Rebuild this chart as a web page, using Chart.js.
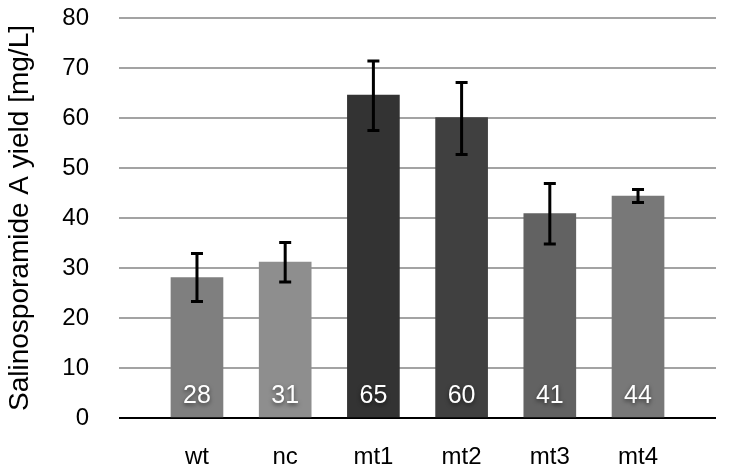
<!DOCTYPE html>
<html>
<head>
<meta charset="utf-8">
<script src="https://cdn.jsdelivr.net/npm/chart.js@4/dist/chart.umd.min.js"></script>
<style>
  html, body { margin: 0; padding: 0; background: #ffffff; }
  #wrap { width: 729px; height: 471px; }
</style>
</head>
<body>
<div id="wrap"><canvas id="yieldChart" width="729" height="471"></canvas></div>
<script>
const categories = ["wt", "nc", "mt1", "mt2", "mt3", "mt4"];
const yieldValues = [28.1, 31.2, 64.6, 60.1, 40.9, 44.4];
const errorLow = [23.3, 27.2, 57.5, 52.7, 34.8, 43.1];
const errorHigh = [32.9, 35.1, 71.4, 67.1, 46.9, 45.7];
const barLabels = ["28", "31", "65", "60", "41", "44"];
const barColors = ["#7f7f7f", "#8e8e8e", "#333333", "#404040", "#626262", "#787878"];
const yTicks = [0, 10, 20, 30, 40, 50, 60, 70, 80];

const fontFamily = "'Liberation Sans', Arial, Helvetica, sans-serif";

const errorBarPlugin = {
  id: "errorBars",
  afterDatasetsDraw(chart) {
    const ctx = chart.ctx;
    const yScale = chart.scales.y;
    const meta = chart.getDatasetMeta(0);
    ctx.save();
    meta.data.forEach((bar, i) => {
      // value label inside the bar
      ctx.save();
      ctx.font = "25px " + fontFamily;
      ctx.fillStyle = "#ffffff";
      ctx.textAlign = "center";
      ctx.textBaseline = "middle";
      ctx.shadowColor = "rgba(0,0,0,0.55)";
      ctx.shadowBlur = 4;
      ctx.shadowOffsetY = 2;
      ctx.fillText(barLabels[i], bar.x, yScale.getPixelForValue(0) - 22);
      ctx.restore();

      // error bar
      const top = yScale.getPixelForValue(errorHigh[i]);
      const bottom = yScale.getPixelForValue(errorLow[i]);
      ctx.strokeStyle = "#000000";
      ctx.lineWidth = 3;
      ctx.beginPath();
      ctx.moveTo(bar.x, top);
      ctx.lineTo(bar.x, bottom);
      ctx.moveTo(bar.x - 6, top);
      ctx.lineTo(bar.x + 6, top);
      ctx.moveTo(bar.x - 6, bottom);
      ctx.lineTo(bar.x + 6, bottom);
      ctx.stroke();
    });
    ctx.restore();
  },
};

const ctx = document.getElementById("yieldChart").getContext("2d");

new Chart(ctx, {
  type: "bar",
  data: {
    datasets: [
      {
        data: categories.map((c, i) => ({ x: i, y: yieldValues[i] })),
        backgroundColor: barColors,
        borderWidth: 0,
        barThickness: 52,
      },
    ],
  },
  options: {
    responsive: false,
    animation: false,
    layout: { padding: { top: 18, right: 13, left: 0, bottom: 0 } },
    plugins: {
      legend: { display: false },
      tooltip: { enabled: false },
    },
    scales: {
      x: {
        type: "linear",
        offset: false,
        min: -0.884,
        max: 5.884,
        grid: { display: false, drawTicks: false },
        border: { display: false },
        afterBuildTicks: (scale) => {
          scale.ticks = categories.map((c, i) => ({ value: i }));
        },
        afterFit: (scale) => {
          scale.height = 53;
          scale.paddingLeft = 0;
          scale.paddingRight = 0;
        },
        ticks: {
          padding: 25,
          color: "#000000",
          font: { family: fontFamily, size: 24 },
          callback: (value) => categories[value],
        },
      },
      y: {
        min: 0,
        max: 80,
        afterBuildTicks: (scale) => {
          scale.ticks = yTicks.map((v) => ({ value: v }));
        },
        afterFit: (scale) => {
          scale.width = 119;
          scale.paddingTop = 0;
          scale.paddingBottom = 0;
        },
        grid: {
          drawTicks: false,
          lineWidth: 2,
          color: (c) => (c.tick && c.tick.value === 0 ? "#000000" : "#a3a3a3"),
        },
        border: { display: false },
        ticks: {
          padding: 30,
          color: "#000000",
          font: { family: fontFamily, size: 24 },
        },
        title: {
          display: true,
          text: "Salinosporamide A yield [mg/L]",
          color: "#000000",
          padding: { top: 3, bottom: 0 },
          font: { family: fontFamily, size: 28 },
        },
      },
    },
  },
  plugins: [errorBarPlugin],
});
</script>
</body>
</html>
